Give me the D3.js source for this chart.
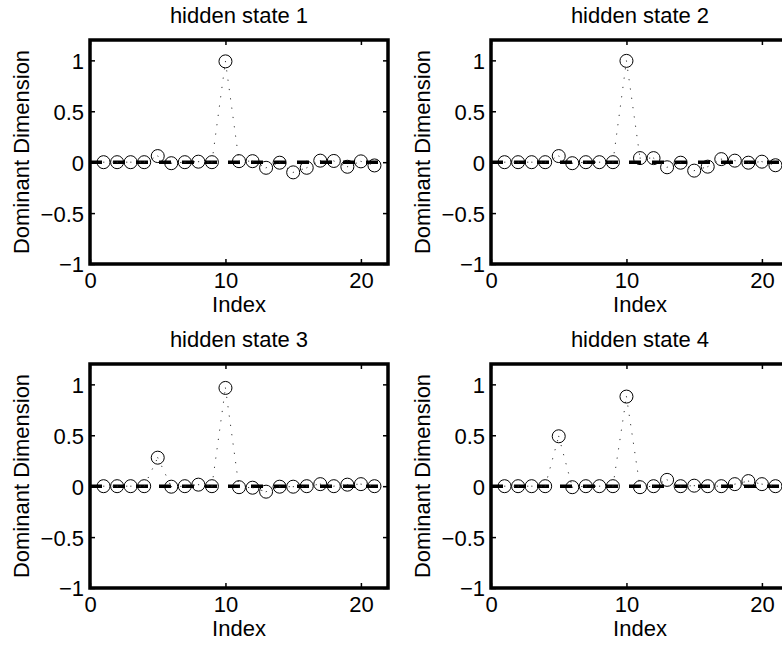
<!DOCTYPE html>
<html>
<head>
<meta charset="utf-8">
<script src="https://cdn.jsdelivr.net/npm/d3@7"></script>
<style>
  html, body { margin: 0; padding: 0; background: #fff; }
  svg { display: block; }
  text { font-family: "Liberation Sans", Arial, Helvetica, sans-serif; fill: #000; }
</style>
</head>
<body>
<svg id="fig" width="782" height="648"></svg>
<script>
// Index positions shared by all four panels
const indices = d3.range(1, 22);

// Dominant dimension per index, one array per hidden state
const state1 = [0, 0, 0, 0, 0.06, -0.01, 0, 0.005, 0, 0.99, 0.01, 0.01, -0.055, -0.005, -0.1, -0.055, 0.015, 0.012, -0.045, 0.008, -0.032];
const state2 = [0, 0, 0, 0, 0.06, -0.01, 0, 0, 0, 0.995, 0.04, 0.04, -0.05, -0.005, -0.083, -0.044, 0.03, 0.015, -0.005, 0.005, -0.03];
const state3 = [0, 0, 0, 0, 0.28, -0.005, 0, 0.015, 0, 0.965, -0.01, -0.015, -0.054, -0.005, -0.005, 0, 0.02, 0, 0.015, 0.02, 0];
const state4 = [0, 0, 0, 0, 0.49, -0.01, 0, 0, 0, 0.88, -0.01, 0, 0.062, 0, 0.005, 0, 0, 0.02, 0.05, 0.02, 0];

const panelTitles = ["hidden state 1", "hidden state 2", "hidden state 3", "hidden state 4"];
const panelSeries = [state1, state2, state3, state4];

const xTicks = [0, 10, 20];
const xTickLabels = ["0", "10", "20"];
const yTicks = [-1, -0.5, 0, 0.5, 1];
const yTickLabels = ["\u22121", "\u22120.5", "0", "0.5", "1"];

const xDomain = [0, 22];
const yDomain = [-1, 1.2];

const svg = d3.select("#fig");
const FONT = 22;

// axes rectangle of the first panel; the others are offset on a 2x2 grid
const box = { left: 90, right: 388, top: 40, bottom: 264 };
const colStep = 401, rowStep = 324;

panelSeries.forEach((series, i) => {
  const col = i % 2, row = Math.floor(i / 2);
  const g = svg.append("g")
    .attr("transform", `translate(${box.left + col * colStep},${box.top + row * rowStep})`);
  const w = box.right - box.left, h = box.bottom - box.top;

  const x = d3.scaleLinear().domain(xDomain).range([0, w]);
  const y = d3.scaleLinear().domain(yDomain).range([h, 0]);

  // tick marks on all four sides, pointing into the axes
  const tickLen = 5;
  const styleAxis = sel => {
    sel.select(".domain").remove();
    sel.selectAll(".tick line").attr("stroke", "#000").attr("stroke-width", 1.5);
    sel.selectAll(".tick text").attr("font-size", FONT).attr("font-family", null);
  };
  g.append("g").attr("transform", `translate(0,${h})`)
    .call(d3.axisBottom(x).tickValues(xTicks).tickSize(-tickLen).tickPadding(8.5)
      .tickFormat((d, k) => xTickLabels[k]))
    .call(styleAxis);
  g.append("g")
    .call(d3.axisTop(x).tickValues(xTicks).tickSize(-tickLen).tickFormat(""))
    .call(styleAxis);
  g.append("g")
    .call(d3.axisLeft(y).tickValues(yTicks).tickSize(-tickLen).tickPadding(6)
      .tickFormat((d, k) => yTickLabels[k]))
    .call(styleAxis)
    .selectAll(".tick text").attr("dy", "0.36em");
  g.append("g").attr("transform", `translate(${w},0)`)
    .call(d3.axisRight(y).tickValues(yTicks).tickSize(-tickLen).tickFormat(""))
    .call(styleAxis);

  // zero reference: thick dashed line
  g.append("path")
    .datum(xDomain)
    .attr("d", d3.line().x(d => x(d)).y(() => y(0)))
    .attr("fill", "none")
    .attr("stroke", "#000")
    .attr("stroke-width", 3.5)
    .attr("stroke-dasharray", "12,11");

  // dotted connecting line, drawn per segment so each vertex gets a dot
  const pts = indices.map((d, k) => [d, series[k]]);
  const seg = d3.line().x(d => x(d[0])).y(d => y(d[1]));
  g.append("g").selectAll("path")
    .data(d3.pairs(pts))
    .join("path")
    .attr("d", seg)
    .attr("fill", "none")
    .attr("stroke", "#333")
    .attr("stroke-width", 1)
    .attr("stroke-linecap", "round")
    .attr("stroke-dasharray", "0.4,9");

  // open circle markers
  g.append("g").selectAll("circle")
    .data(pts)
    .join("circle")
    .attr("cx", d => x(d[0]))
    .attr("cy", d => y(d[1]))
    .attr("r", 6.5)
    .attr("fill", "none")
    .attr("stroke", "#000")
    .attr("stroke-width", 1);

  // axes box
  g.append("rect")
    .attr("x", 0).attr("y", 0).attr("width", w).attr("height", h)
    .attr("fill", "none").attr("stroke", "#000").attr("stroke-width", 3.5);

  // title and axis labels
  g.append("text")
    .attr("x", w / 2).attr("y", -17)
    .attr("text-anchor", "middle").attr("font-size", FONT)
    .text(panelTitles[i]);
  g.append("text")
    .attr("x", w / 2).attr("y", h + 47.5)
    .attr("text-anchor", "middle").attr("font-size", FONT)
    .text("Index");
  g.append("text")
    .attr("transform", `translate(-61.5,${h / 2}) rotate(-90)`)
    .attr("text-anchor", "middle").attr("font-size", FONT)
    .text("Dominant Dimension");
});
</script>
</body>
</html>
